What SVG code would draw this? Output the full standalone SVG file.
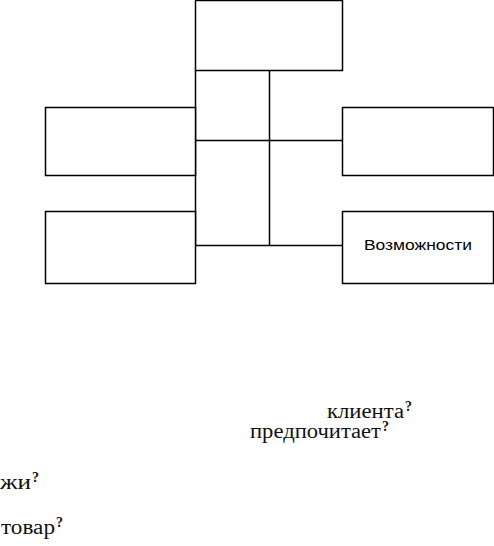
<svg xmlns="http://www.w3.org/2000/svg" width="494" height="546" viewBox="0 0 494 546">
<style>
.box{fill:#fff;stroke:#000;stroke-width:1.5}
.ln{fill:none;stroke:#000;stroke-width:1.5}
.lbl{font-family:"Liberation Sans",Arial,sans-serif;font-size:14.5px;fill:#000}
.q{font-family:"Liberation Serif","Times New Roman",serif;font-size:20px;fill:#111}
.qm{font-size:14px;font-weight:bold}
</style>
<rect width="494" height="546" fill="#fff"/>
<g id="connectors">
<path class="ln" d="M195.5 70.5V245.5M269.5 70.5V245.5M195.5 140.5H342.5M195.5 245.5H342.5"/>
</g>
<g id="top"><rect class="box" x="195.5" y="0.5" width="147" height="70"/></g>
<g id="left1"><rect class="box" x="45.5" y="107.5" width="150" height="68"/></g>
<g id="left2"><rect class="box" x="45.5" y="211.5" width="150" height="72"/></g>
<g id="right1"><rect class="box" x="342.5" y="107.5" width="151" height="68"/></g>
<g id="right2"><rect class="box" x="342.5" y="211.5" width="151" height="72"/>
<text class="lbl" x="418" y="250" text-anchor="middle" textLength="108" lengthAdjust="spacingAndGlyphs">Возможности</text></g>
<g id="texts">
<text class="q" x="327" y="418"><tspan textLength="77" lengthAdjust="spacingAndGlyphs">клиента</tspan><tspan class="qm" dx="1" dy="-7">?</tspan></text>
<text class="q" x="250" y="438"><tspan textLength="131" lengthAdjust="spacingAndGlyphs">предпочитает</tspan><tspan class="qm" dx="1" dy="-7">?</tspan></text>
<text class="q" x="0" y="489"><tspan textLength="31" lengthAdjust="spacingAndGlyphs">жи</tspan><tspan class="qm" dx="1" dy="-7">?</tspan></text>
<text class="q" x="1" y="534"><tspan textLength="54" lengthAdjust="spacingAndGlyphs">товар</tspan><tspan class="qm" dx="1" dy="-7">?</tspan></text>
</g>
</svg>
